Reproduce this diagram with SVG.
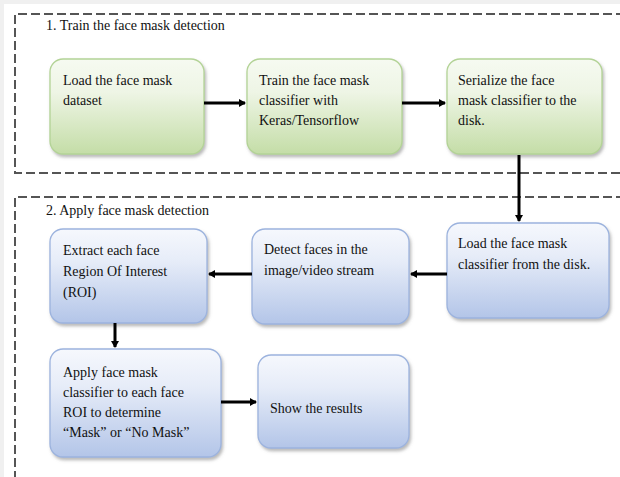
<svg xmlns="http://www.w3.org/2000/svg" width="620" height="477" viewBox="0 0 620 477">
<defs>
<linearGradient id="gGreen" x1="0" y1="0" x2="0" y2="1">
<stop offset="0" stop-color="#f6faf1"/>
<stop offset="0.35" stop-color="#eef5e5"/>
<stop offset="1" stop-color="#c4dda7"/>
</linearGradient>
<linearGradient id="gBlue" x1="0" y1="0" x2="0" y2="1">
<stop offset="0" stop-color="#f6f8fd"/>
<stop offset="0.35" stop-color="#e6ecf8"/>
<stop offset="1" stop-color="#b3c5e8"/>
</linearGradient>
<filter id="sh" x="-10%" y="-10%" width="125%" height="130%">
<feDropShadow dx="1.5" dy="2.5" stdDeviation="1.5" flood-color="#808080" flood-opacity="0.55"/>
</filter>
<marker id="ah" markerWidth="10" markerHeight="10" refX="6" refY="4" orient="auto" markerUnits="userSpaceOnUse">
<path d="M0,0 L7,4 L0,8 Z" fill="#000"/>
</marker>
<style>
.t{font-family:"Liberation Serif","Times New Roman",serif;font-size:14px;fill:#111;}
.grn{fill:url(#gGreen);stroke:#b3d396;stroke-width:1.3;filter:url(#sh);}
.blu{fill:url(#gBlue);stroke:#9cb3de;stroke-width:1.3;filter:url(#sh);}
.dash{fill:none;stroke:#555;stroke-width:2;stroke-dasharray:9 4;}
.con{fill:none;stroke:#000;stroke-width:3;marker-end:url(#ah);}
</style>
</defs>
<rect x="0" y="0" width="620" height="477" fill="#f0f0f0"/>
<rect x="4" y="4" width="616" height="473" fill="#ffffff"/>

<g id="section1">
<path class="dash" d="M625,14 H15 V173 H625"/>
<text class="t" x="46" y="30">1. Train  the face mask  detection</text>
</g>
<g id="section2">
<path class="dash" d="M625,197 H15 V480"/>
<text class="t" x="46" y="215">2. Apply face mask detection</text>
</g>

<g id="nodeA">
<rect class="grn" x="50" y="59" width="154" height="95" rx="13"/>
<text class="t" x="63" y="85">Load the face mask</text>
<text class="t" x="63" y="105">dataset</text>
</g>
<g id="nodeB">
<rect class="grn" x="247" y="59" width="155" height="95" rx="13"/>
<text class="t" x="259" y="85">Train the face mask</text>
<text class="t" x="259" y="105">classifier with</text>
<text class="t" x="259" y="125">Keras/Tensorflow</text>
</g>
<g id="nodeC">
<rect class="grn" x="447" y="59" width="155" height="95" rx="13"/>
<text class="t" x="458" y="85">Serialize the face</text>
<text class="t" x="458" y="105">mask classifier to the</text>
<text class="t" x="458" y="125">disk.</text>
</g>
<g id="nodeD">
<rect class="blu" x="447" y="223" width="162" height="95" rx="13"/>
<text class="t" x="458" y="248">Load the face mask</text>
<text class="t" x="458" y="269">classifier from the disk.</text>
</g>
<g id="nodeE">
<rect class="blu" x="252" y="229" width="157" height="95" rx="13"/>
<text class="t" x="264" y="254">Detect faces in the</text>
<text class="t" x="264" y="275">image/video stream</text>
</g>
<g id="nodeF">
<rect class="blu" x="50" y="229" width="157" height="94" rx="13"/>
<text class="t" x="63" y="255">Extract each face</text>
<text class="t" x="63" y="276">Region Of Interest</text>
<text class="t" x="63" y="297">(ROI)</text>
</g>
<g id="nodeG">
<rect class="blu" x="50" y="349" width="171" height="108" rx="13"/>
<text class="t" x="63" y="377">Apply face mask</text>
<text class="t" x="63" y="397">classifier to each face</text>
<text class="t" x="63" y="417">ROI to determine</text>
<text class="t" x="63" y="437">“Mask” or “No Mask”</text>
</g>
<g id="nodeH">
<rect class="blu" x="258" y="355" width="151" height="93" rx="13"/>
<text class="t" x="270" y="413">Show the results</text>
</g>

<g id="connectors">
<line class="con" x1="204" y1="103" x2="245" y2="103"/>
<line class="con" x1="402" y1="103" x2="445" y2="103"/>
<line class="con" x1="519" y1="155" x2="519" y2="221"/>
<line class="con" x1="447" y1="274" x2="411" y2="274"/>
<line class="con" x1="252" y1="274" x2="209" y2="274"/>
<line class="con" x1="115" y1="323" x2="115" y2="347"/>
<line class="con" x1="221" y1="402" x2="256" y2="402"/>
</g>
</svg>
